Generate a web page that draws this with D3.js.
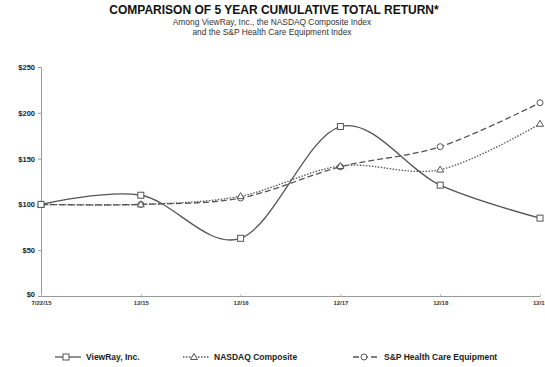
<!DOCTYPE html>
<html>
<head>
<meta charset="utf-8">
<script src="https://cdn.jsdelivr.net/npm/d3@7"></script>
<style>
  body { margin: 0; background: #fff; }
  svg { display: block; font-family: "Liberation Sans", Arial, sans-serif; }
</style>
</head>
<body>
<svg id="chart" width="545" height="367"></svg>
<script>
const periods = ["7/22/15", "12/15", "12/16", "12/17", "12/18", "12/19"];
const viewray = [100, 110, 63, 185, 121, 85];
const nasdaq = [100, 100, 109, 142, 138, 188];
const spHealth = [100, 100, 107, 141, 163, 211];
const yTicks = [0, 50, 100, 150, 200, 250];

const seriesList = [
    { name: "ViewRay, Inc.", values: viewray, dash: null, marker: "square" },
    { name: "NASDAQ Composite", values: nasdaq, dash: "1.5,1.5", marker: "triangle" },
    { name: "S&P Health Care Equipment", values: spHealth, dash: "6,3", marker: "circle" }
];

const svg = d3.select("#chart");
const lineColor = "#555";

const x = d3.scalePoint().domain(periods).range([41, 540]);
const y = d3.scaleLinear().domain([0, 250]).range([296, 67]);

// titles
svg.append("text").attr("x", 274).attr("y", 14).attr("text-anchor", "middle")
    .style("font-size", "12px").style("font-weight", "bold").attr("fill", "#111")
    .text("COMPARISON OF 5 YEAR CUMULATIVE TOTAL RETURN*");
svg.append("text").attr("x", 272).attr("y", 25).attr("text-anchor", "middle")
    .style("font-size", "8.4px").attr("fill", "#333")
    .text("Among ViewRay, Inc., the NASDAQ Composite Index");
svg.append("text").attr("x", 272).attr("y", 35).attr("text-anchor", "middle")
    .style("font-size", "8.4px").attr("fill", "#333")
    .text("and the S&P Health Care Equipment Index");

// axes
const yAxis = svg.append("g").attr("transform", "translate(41,0)")
    .call(d3.axisLeft(y).tickValues(yTicks).tickSize(3).tickFormat(d => "$" + d));
yAxis.select(".domain").attr("stroke", "#999");
yAxis.selectAll(".tick line").attr("stroke", "#999");
yAxis.selectAll(".tick text").attr("x", -6).style("font-size", "7.5px")
    .style("font-weight", "bold").attr("fill", "#222");
yAxis.selectAll(".tick").filter(d => d === 0).select("text").attr("dy", "0.1em");

const xAxis = svg.append("g").attr("transform", "translate(0,296)")
    .call(d3.axisBottom(x).tickSize(-2).tickSizeOuter(0));
xAxis.select(".domain").attr("stroke", "#999");
xAxis.selectAll(".tick line").attr("stroke", "#bbb");
xAxis.selectAll(".tick text").attr("y", 5).style("font-size", "6px")
    .style("font-weight", "bold").attr("fill", "#333");

// lines
const line = d3.line()
    .x((d, i) => x(periods[i]))
    .y(d => y(d))
    .curve(d3.curveCatmullRom.alpha(0));

function drawMarker(g, type, cx, cy) {
    if (type === "square") {
        g.append("rect").attr("x", cx - 3).attr("y", cy - 3).attr("width", 6).attr("height", 6)
            .attr("fill", "#fff").attr("stroke", lineColor).attr("stroke-width", 1);
    } else if (type === "triangle") {
        g.append("path").attr("d", `M${cx},${cy - 3.5}L${cx + 3.5},${cy + 2.5}L${cx - 3.5},${cy + 2.5}Z`)
            .attr("fill", "#fff").attr("stroke", lineColor).attr("stroke-width", 1);
    } else {
        g.append("circle").attr("cx", cx).attr("cy", cy).attr("r", 3)
            .attr("fill", "#fff").attr("stroke", lineColor).attr("stroke-width", 1);
    }
}

seriesList.slice().reverse().forEach(s => {
    const g = svg.append("g");
    g.append("path").attr("d", line(s.values)).attr("fill", "none")
        .attr("stroke", lineColor).attr("stroke-width", 1.3)
        .attr("stroke-dasharray", s.dash);
    s.values.forEach((v, i) => drawMarker(g, s.marker, x(periods[i]), y(v)));
});

// legend
const legendX = [55, 183, 353];
seriesList.forEach((s, i) => {
    const g = svg.append("g").attr("transform", `translate(${legendX[i]},357)`);
    g.append("line").attr("x1", 0).attr("x2", 26).attr("y1", 0).attr("y2", 0)
        .attr("stroke", lineColor).attr("stroke-width", 1.3).attr("stroke-dasharray", s.dash);
    drawMarker(g, s.marker, 11, 0);
    g.append("text").attr("x", 31).attr("y", 3).style("font-size", "8.5px")
        .style("font-weight", "bold").attr("fill", "#222").text(s.name);
});
</script>
</body>
</html>
